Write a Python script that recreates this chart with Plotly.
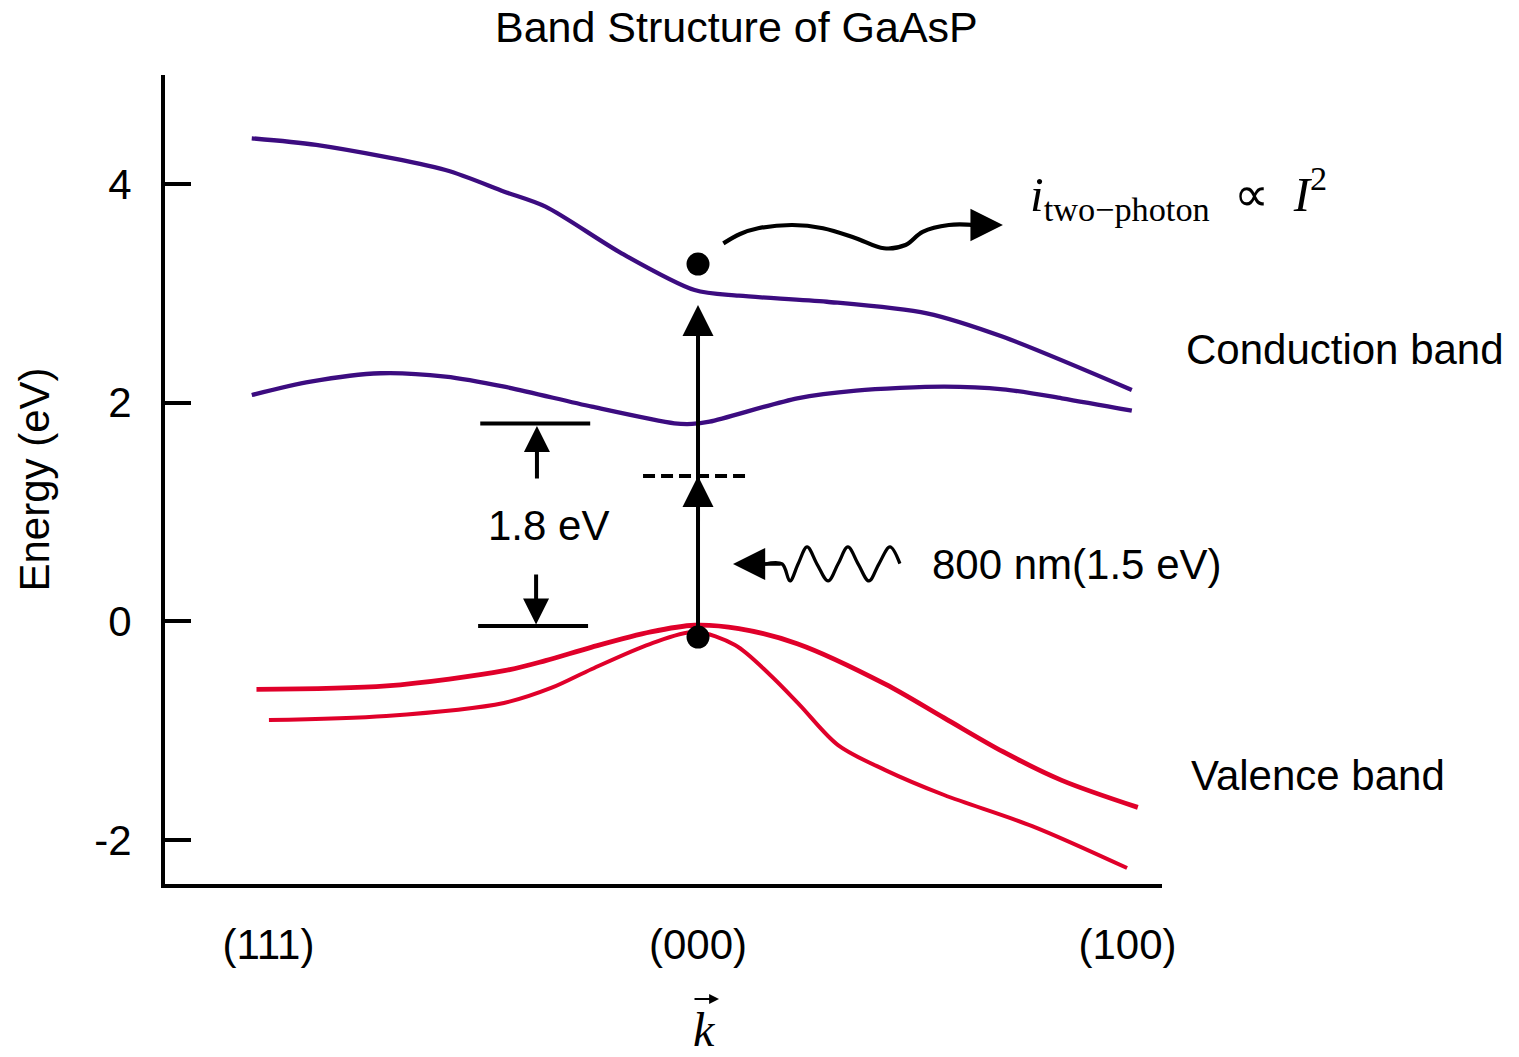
import plotly.graph_objects as go

# ---------------- data ----------------
k_ticks = [-1, 0, 1]
k_labels = ["(111)", "(000)", "(100)"]
e_ticks = [-2, 0, 2, 4]
e_labels = ["-2", "0", "2", "4"]

cb_upper_k = [-1.039, -0.889, -0.588, -0.451, -0.355, -0.178, -0.008, 0.095, 0.300, 0.533, 0.710, 1.010]
cb_upper_e = [4.418, 4.357, 4.128, 3.930, 3.793, 3.366, 3.030, 2.978, 2.923, 2.817, 2.602, 2.116]

cb_lower_k = [-1.039, -0.902, -0.739, -0.588, -0.451, -0.247, -0.055, -0.014, 0.027, 0.231, 0.368, 0.573, 0.710, 0.847, 1.010]
cb_lower_e = [2.070, 2.192, 2.269, 2.238, 2.146, 1.963, 1.811, 1.805, 1.826, 2.040, 2.110, 2.146, 2.122, 2.040, 1.926]

vb_upper_k = [-1.028, -0.725, -0.451, -0.355, -0.247, -0.110, -0.008, 0.095, 0.231, 0.436, 0.573, 0.710, 0.847, 1.024]
vb_upper_e = [-0.622, -0.591, -0.452, -0.360, -0.236, -0.097, -0.036, -0.067, -0.205, -0.575, -0.884, -1.193, -1.455, -1.702]

vb_lower_k = [-0.999, -0.726, -0.452, -0.342, -0.247, -0.112, -0.007, 0.086, 0.168, 0.237, 0.326, 0.436, 0.573, 0.778, 0.999]
vb_lower_e = [-0.903, -0.866, -0.747, -0.610, -0.436, -0.208, -0.098, -0.217, -0.491, -0.766, -1.132, -1.361, -1.589, -1.873, -2.257]

# electron dots (k, E)
dots_k = [0.0, 0.0]
dots_e = [3.268, -0.144]

# decorations: emitted-current squiggle and incoming photon wave (waypoints)
squiggle_k = [0.059, 0.098, 0.140, 0.220, 0.291, 0.366, 0.433, 0.483, 0.523, 0.584, 0.645]
squiggle_e = [3.457, 3.543, 3.595, 3.625, 3.595, 3.506, 3.412, 3.442, 3.563, 3.625, 3.625]

wave_k = [0.156, 0.196, 0.214, 0.233, 0.254, 0.277, 0.303, 0.326, 0.349, 0.373, 0.398, 0.421, 0.447, 0.470]
wave_e = [0.524, 0.524, 0.369, 0.524, 0.680, 0.524, 0.369, 0.524, 0.680, 0.524, 0.369, 0.524, 0.680, 0.527]

gap_bottom = -0.043
gap_top = 1.809
virtual_level = 1.329
purple = "#3c0c80"
red = "#e0002a"

fig = go.Figure()

fig.add_trace(go.Scatter(x=cb_upper_k, y=cb_upper_e, mode="lines",
                         line=dict(color=purple, width=4.3, shape="spline", smoothing=0.8)))
fig.add_trace(go.Scatter(x=cb_lower_k, y=cb_lower_e, mode="lines",
                         line=dict(color=purple, width=4.3, shape="spline", smoothing=0.8)))
fig.add_trace(go.Scatter(x=vb_upper_k, y=vb_upper_e, mode="lines",
                         line=dict(color=red, width=4.8, shape="spline", smoothing=0.9)))
fig.add_trace(go.Scatter(x=vb_lower_k, y=vb_lower_e, mode="lines",
                         line=dict(color=red, width=4, shape="spline", smoothing=0.9)))
fig.add_trace(go.Scatter(x=squiggle_k, y=squiggle_e, mode="lines",
                         line=dict(color="black", width=4.2, shape="spline", smoothing=1.0)))
fig.add_trace(go.Scatter(x=wave_k, y=wave_e, mode="lines",
                         line=dict(color="black", width=3.3, shape="spline", smoothing=1.0)))
fig.add_trace(go.Scatter(x=dots_k, y=dots_e, mode="markers",
                         marker=dict(color="black", size=23)))

# dashed virtual level
fig.add_shape(type="line", x0=-0.128, x1=0.123, y0=virtual_level, y1=virtual_level,
              xref="x", yref="y", line=dict(color="black", width=3.8, dash="12px,6px"))
# bracket bars for 1.8 eV
fig.add_shape(type="line", x0=-0.507, x1=-0.251, y0=gap_top, y1=gap_top,
              line=dict(color="black", width=4))
fig.add_shape(type="line", x0=-0.512, x1=-0.256, y0=gap_bottom, y1=gap_bottom,
              line=dict(color="black", width=4))

ann = []
# vertical excitation arrow (bottom dot -> top)
ann.append(dict(x=0.0, y=2.893, ax=0.0, ay=-0.144, xref="x", yref="y", axref="x", ayref="y",
                showarrow=True, arrowhead=2, arrowwidth=4, arrowsize=1.55, arrowcolor="black", text=""))
# middle arrowhead at the virtual level
ann.append(dict(x=0.0, y=virtual_level, ax=0.0, ay=0.9, xref="x", yref="y", axref="x", ayref="y",
                showarrow=True, arrowhead=2, arrowwidth=4, arrowsize=1.55, arrowcolor="black", text=""))
# bracket arrows
ann.append(dict(x=-0.375, y=1.786, ax=-0.375, ay=1.293, xref="x", yref="y", axref="x", ayref="y",
                showarrow=True, arrowhead=2, arrowwidth=4, arrowsize=1.3, arrowcolor="black", text=""))
ann.append(dict(x=-0.377, y=-0.030, ax=-0.377, ay=0.441, xref="x", yref="y", axref="x", ayref="y",
                showarrow=True, arrowhead=2, arrowwidth=4, arrowsize=1.3, arrowcolor="black", text=""))
# photon arrow head (points left)
ann.append(dict(x=0.0815, y=0.524, ax=0.196, ay=0.524, xref="x", yref="y", axref="x", ayref="y",
                showarrow=True, arrowhead=2, arrowwidth=3.3, arrowsize=1.95, arrowcolor="black", text=""))
# squiggle arrow head (points right)
ann.append(dict(x=0.710, y=3.625, ax=0.630, ay=3.625, xref="x", yref="y", axref="x", ayref="y",
                showarrow=True, arrowhead=2, arrowwidth=4.2, arrowsize=1.55, arrowcolor="black", text=""))
# small vector arrow over k (x-axis label)
ann.append(dict(x=(719 - 165) / 997, y=(884 - 999) / 809, ax=-26, ay=0,
                xref="paper", yref="paper",
                showarrow=True, arrowhead=2, arrowwidth=1.8, arrowsize=1.1, arrowcolor="black", text=""))

lab_font = dict(family="Liberation Sans, Arial, sans-serif", size=42, color="black")
ann.append(dict(x=-0.349, y=0.872, xref="x", yref="y", text="1.8 eV", showarrow=False,
                xanchor="center", yanchor="middle", font=lab_font))
ann.append(dict(x=0.540, y=0.515, xref="x", yref="y", text="800 nm(1.5 eV)", showarrow=False,
                xanchor="left", yanchor="middle", font=lab_font))
ann.append(dict(x=(1184 - 165) / 997, y=2.483, xref="paper", yref="y", text="Conduction band",
                showarrow=False, xanchor="left", yanchor="middle", font=lab_font))
ann.append(dict(x=(1189 - 165) / 997, y=-1.406, xref="paper", yref="y", text="Valence band",
                showarrow=False, xanchor="left", yanchor="middle", font=lab_font))
ann.append(dict(x=0.768, y=3.91, xref="x", yref="y",
                text="<i>i</i><sub>two\u2212photon</sub>\u00a0\u00a0\u221d\u00a0\u00a0<i>I</i><sup>2</sup>",
                showarrow=False, xanchor="left", yanchor="middle",
                font=dict(family="Liberation Serif, Times New Roman, serif", size=49, color="black")))
# y-axis title
ann.append(dict(x=(34 - 165) / 997, y=0.5, xref="paper", yref="paper", text="Energy (eV)",
                textangle=-90, showarrow=False, xanchor="center", yanchor="middle", font=lab_font))
# title
ann.append(dict(x=(736.5 - 165) / 997, y=(884 - 27) / 809, xref="paper", yref="paper",
                text="Band Structure of GaAsP", showarrow=False, xanchor="center", yanchor="middle",
                font=dict(family="Liberation Sans, Arial, sans-serif", size=43, color="black")))
# x-axis label: k (vector)
ann.append(dict(x=(704 - 165) / 997, y=(884 - 1057) / 809, xref="paper", yref="paper",
                text="<i>k</i>", showarrow=False, xanchor="center", yanchor="bottom", borderpad=0,
                font=dict(family="Liberation Serif, serif", size=48, color="black")))

fig.update_layout(
    width=1519, height=1057,
    margin=dict(l=165, r=357, t=75, b=173),
    paper_bgcolor="white", plot_bgcolor="white",
    showlegend=False,
    annotations=ann,
    xaxis=dict(range=[-1.241, 1.0803], showline=True, linecolor="black", linewidth=4,
               ticks="", tickvals=k_ticks, ticktext=k_labels, showgrid=False, zeroline=False,
               tickfont=lab_font, ticklabelstandoff=21, fixedrange=True),
    yaxis=dict(range=[-2.403, 4.997], showline=True, linecolor="black", linewidth=4,
               ticks="inside", ticklen=26, tickwidth=4, tickcolor="black",
               tickvals=e_ticks, ticktext=e_labels, showgrid=False, zeroline=False,
               tickfont=lab_font, ticklabelstandoff=21, fixedrange=True),
)

fig.write_html("out.html")
